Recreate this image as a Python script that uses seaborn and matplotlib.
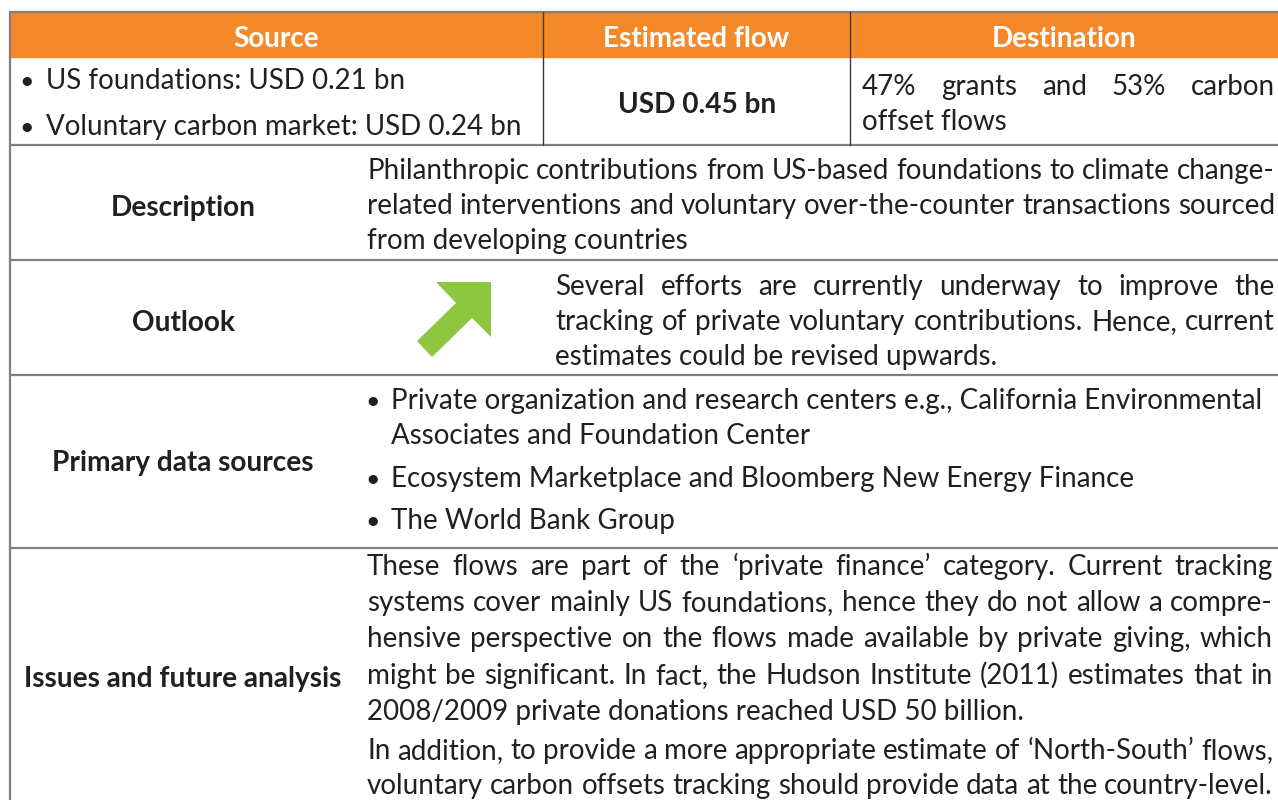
import seaborn as sns
import matplotlib.pyplot as plt
from matplotlib.patches import Rectangle, Polygon

# table content
headers = ['Source', 'Estimated flow', 'Destination']
source_items = ['US foundations: USD 0.21 bn', 'Voluntary carbon market: USD 0.24 bn']
flow_value = 'USD 0.45 bn'
destination_lines = ['47% grants and 53% carbon', 'offset flows']

row_labels = ['Description', 'Outlook', 'Primary data sources', 'Issues and future analysis']
description_lines = [
    'Philanthropic contributions from US-based foundations to climate change-',
    'related interventions and voluntary over-the-counter transactions sourced',
    'from developing countries',
]
outlook_lines = [
    'Several efforts are currently underway to improve the',
    'tracking of private voluntary contributions. Hence, current',
    'estimates could be revised upwards.',
]
source_bullets = [
    ['Private organization and research centers e.g., California Environmental',
     'Associates and Foundation Center'],
    ['Ecosystem Marketplace and Bloomberg New Energy Finance'],
    ['The World Bank Group'],
]
issues_paragraphs = [
    ['These flows are part of the \u2018private finance\u2019 category. Current tracking',
     'systems cover mainly US foundations, hence they do not allow a compre-',
     'hensive perspective on the flows made available by private giving, which',
     'might be significant. In fact, the Hudson Institute (2011) estimates that in',
     '2008/2009 private donations reached USD 50 billion.'],
    ['In addition, to provide a more appropriate estimate of \u2018North-South\u2019 flows,',
     'voluntary carbon offsets tracking should provide data at the country-level.'],
]

sns.set_theme(style='white')
plt.rcParams['font.family'] = ['Lato', 'DejaVu Sans']

ORANGE = '#F5892A'
GREEN = '#8DC63F'
TEXT = '#231F20'
LINE = '#7F7F7F'

fig = plt.figure(figsize=(12.78, 8), dpi=100)
ax = fig.add_axes([0, 0, 1, 1])
ax.set_xlim(0, 1278)
ax.set_ylim(800, 0)
ax.axis('off')
renderer = fig.canvas.get_renderer()


def fit_size(sample, target_px, **kw):
    t = ax.text(0, 0, sample, fontsize=10, **kw)
    w = t.get_window_extent(renderer).width
    t.remove()
    return 10 * target_px / w


# font sizes fitted to the widths of a few reference lines
FS = fit_size(source_bullets[0][0], 869)
FS_BOLD = fit_size(row_labels[3], 319, fontweight='bold')
FS_HEAD = fit_size(headers[1], 187, fontweight='bold')


def justify(line, x0, x1, y, **kw):
    words = line.split()
    texts = [ax.text(0, y, w, va='baseline', color=TEXT, fontsize=FS, **kw)
             for w in words]
    widths = [t.get_window_extent(renderer).width for t in texts]
    gap = (x1 - x0 - sum(widths)) / max(len(words) - 1, 1)
    x = x0
    for t, w in zip(texts, widths):
        t.set_x(x)
        x += w + gap


def left(line, x, y, **kw):
    ax.text(x, y, line, va='baseline', color=TEXT, fontsize=FS, **kw)


def bullet(x, y):
    ax.text(x, y, '\u2022', va='baseline', ha='center', color=TEXT, fontsize=FS * 0.9)


# header
ax.add_patch(Rectangle((10, 12), 1268, 45, color=ORANGE, zorder=0))
col_edges = [10, 543, 850, 1278]
for i, h in enumerate(headers):
    ax.text((col_edges[i] + col_edges[i + 1]) / 2, 47, h, ha='center',
            va='baseline', color='white', fontsize=FS_HEAD, fontweight='bold')

# grid lines
ax.plot([10, 1278], [12, 12], color=LINE, lw=1.6)
for y in [145, 260, 375, 548]:
    ax.plot([10, 1278], [y, y], color=LINE, lw=1.6)
ax.plot([10, 10], [12, 800], color=LINE, lw=1.6)
for x in [543, 850]:
    ax.plot([x, x], [12, 145], color='#3A3A3A', lw=1.0)

# first row
for y, item in zip([89, 135], source_items):
    bullet(27, y)
    left(item, 46, y)
ax.text(697, 113, flow_value, ha='center', va='baseline', color=TEXT,
        fontsize=FS_BOLD, fontweight='bold')
justify(destination_lines[0], 862, 1275, 95)
left(destination_lines[1], 862, 130)

# row labels
for y, lab in zip([216, 331, 471, 687], row_labels):
    ax.text(183, y, lab, ha='center', va='baseline', color=TEXT,
            fontsize=FS_BOLD, fontweight='bold')

# description
for y, line in zip([179, 214], description_lines[:2]):
    justify(line, 367, 1275, y)
left(description_lines[2], 367, 249)

# outlook
ax.add_patch(Polygon([(436, 282), (491, 282), (491, 337), (472, 318),
                      (432, 357), (417, 341), (456, 303)], closed=True,
                     color=GREEN, lw=0))
for y, line in zip([295, 330], outlook_lines[:2]):
    justify(line, 555, 1275, y)
left(outlook_lines[2], 555, 365)

# primary data sources
ys = iter([409, 444, 487, 529])
for item in source_bullets:
    for j, line in enumerate(item):
        y = next(ys)
        if j == 0:
            bullet(373, y)
        left(line, 391, y)

# issues
ys = iter([575, 611, 647, 684, 720, 759, 794])
for para in issues_paragraphs:
    for j, line in enumerate(para):
        y = next(ys)
        if j < len(para) - 1 or line.startswith('voluntary'):
            justify(line, 367, 1273, y)
        else:
            left(line, 367, y)

fig.savefig('out.png', dpi=100)
